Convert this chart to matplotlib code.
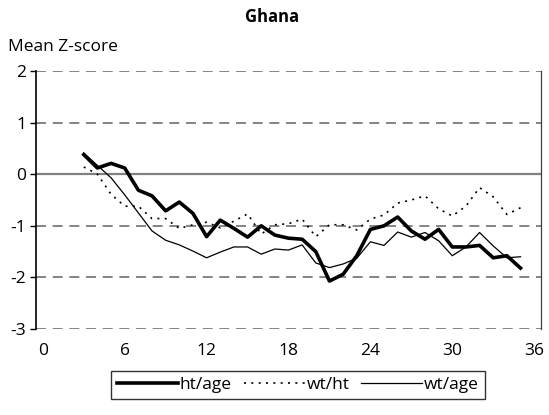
import matplotlib
matplotlib.use('Agg')
import matplotlib.pyplot as plt
from matplotlib.lines import Line2D

plt.rcParams['font.family'] = ['Open Sans', 'DejaVu Sans']

# age in months, mean z-scores
months = list(range(3, 36))
ht_age = [0.38, 0.12, 0.21, 0.12, -0.31, -0.42, -0.71, -0.54, -0.76, -1.21,
          -0.89, -1.05, -1.22, -1.00, -1.18, -1.24, -1.26, -1.50, -2.07, -1.94,
          -1.58, -1.07, -1.00, -0.83, -1.10, -1.26, -1.07, -1.41, -1.41, -1.38,
          -1.62, -1.58, -1.82]
wt_ht = [0.14, 0.00, -0.39, -0.62, -0.62, -0.86, -0.86, -1.05, -0.98, -0.93,
         -1.04, -0.91, -0.77, -1.16, -0.98, -0.96, -0.87, -1.21, -0.98, -0.98,
         -1.08, -0.87, -0.79, -0.56, -0.50, -0.42, -0.67, -0.81, -0.62, -0.26,
         -0.44, -0.78, -0.65]
wt_age = [0.41, 0.17, -0.07, -0.40, -0.75, -1.10, -1.28, -1.37, -1.49, -1.62,
          -1.51, -1.41, -1.41, -1.55, -1.45, -1.47, -1.37, -1.72, -1.81, -1.74,
          -1.63, -1.31, -1.38, -1.12, -1.22, -1.13, -1.29, -1.58, -1.41, -1.13,
          -1.39, -1.62, -1.60]

x_ticks = [0, 6, 12, 18, 24, 30, 36]
y_ticks = [-3, -2, -1, 0, 1, 2]

FS = 12.5


def main():
    fig = plt.figure(figsize=(5.49, 4.15), dpi=100)
    ax = fig.add_axes([36 / 549, 1 - 329 / 415, 505 / 549, 258 / 415])

    ax.set_xlim(-0.5, 36.5)
    ax.set_ylim(-3, 2)

    # gridlines: dashed, zero line solid
    for y in y_ticks:
        if y == 0:
            ax.axhline(y, color='#808080', lw=1.6, zorder=1)
        else:
            ax.axhline(y, color='#707070', lw=1.2, dashes=(6, 4), zorder=1)

    ax.plot(months, ht_age, color='black', lw=2.6, zorder=4)
    ax.plot(months, wt_ht, color='black', lw=1.2, dashes=(1.2, 3.2), zorder=3)
    ax.plot(months, wt_age, color='black', lw=0.9, zorder=3)

    ax.spines['top'].set_visible(False)
    ax.spines['bottom'].set_visible(False)
    ax.spines['left'].set_color('black')
    ax.spines['left'].set_linewidth(1.2)
    ax.spines['right'].set_color('#404040')
    ax.spines['right'].set_linewidth(0.9)

    ax.set_xticks(x_ticks)
    ax.set_xticklabels([str(v) for v in x_ticks])
    ax.set_yticks(y_ticks)
    ax.set_yticklabels([str(v) for v in y_ticks])
    ax.tick_params(axis='x', length=0, pad=10, labelsize=FS)
    ax.tick_params(axis='y', length=4, width=1, direction='out', pad=3, labelsize=FS)

    fig.text(0.496, 1 - 17 / 415, 'Ghana', ha='center', va='center',
             fontsize=12, fontweight='bold')
    fig.text(8 / 549, 1 - 47 / 415, 'Mean Z-score', ha='left', va='center',
             fontsize=FS)

    handles = [Line2D([], [], color='black', lw=2.6),
               Line2D([], [], color='black', lw=1.2, dashes=(1.2, 3.2)),
               Line2D([], [], color='black', lw=0.9)]
    leg = fig.legend(handles, ['ht/age', 'wt/ht', 'wt/age'],
                     loc='center', bbox_to_anchor=(298 / 549, 1 - 385 / 415),
                     ncol=3, fontsize=FS, frameon=True, fancybox=False,
                     handlelength=3.5, handletextpad=0.1, columnspacing=0.7,
                     borderpad=0.35, borderaxespad=0)
    leg.get_frame().set_edgecolor('black')
    leg.get_frame().set_linewidth(1.0)

    fig.savefig('out.png', dpi=100)


if __name__ == '__main__':
    main()
